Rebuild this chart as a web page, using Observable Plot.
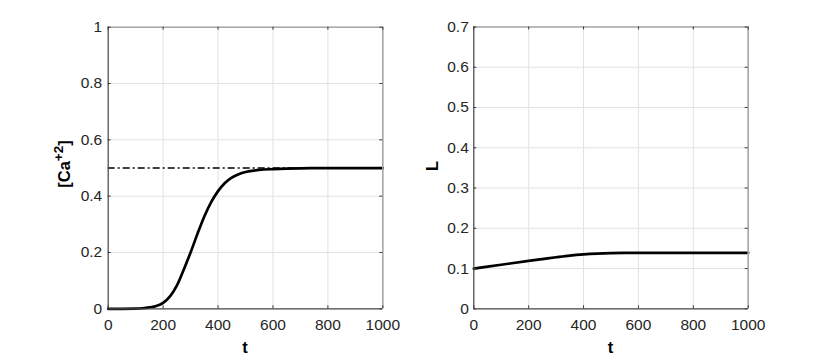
<!DOCTYPE html>
<html>
<head>
<meta charset="utf-8">
<script src="https://cdn.jsdelivr.net/npm/d3@7"></script>
<script src="https://cdn.jsdelivr.net/npm/@observablehq/plot@0.6"></script>
<style>
  html, body { margin: 0; padding: 0; background: white; }
  #wrap { position: relative; width: 830px; height: 356px; overflow: hidden; background: white; }
  #wrap svg { position: absolute; top: 0; }
</style>
</head>
<body>
<div id="wrap"></div>
<script>
// ---- Data ----
const tCa = [0, 50, 100, 125, 150, 175, 200, 225, 250, 275, 300, 325, 350, 375, 400, 425, 450, 475, 500, 550, 600, 650, 700, 800, 900, 1000];
const ca  = [0, 0, 0.0005, 0.002, 0.005, 0.010, 0.021, 0.044, 0.082, 0.139, 0.200, 0.266, 0.328, 0.379, 0.418, 0.447, 0.466, 0.478, 0.486, 0.493, 0.496, 0.498, 0.499, 0.4995, 0.4997, 0.4998];
const caRef = [0.5];

const tL = [0, 100, 200, 250, 300, 350, 400, 450, 500, 550, 600, 700, 800, 1000];
const L  = [0.1, 0.1095, 0.119, 0.1235, 0.128, 0.1322, 0.1352, 0.1372, 0.1383, 0.1388, 0.139, 0.1391, 0.1391, 0.1391];

const xTicks = [0, 200, 400, 600, 800, 1000];
const yTicksCa = [0, 0.2, 0.4, 0.6, 0.8, 1];
const yTicksL = [0, 0.1, 0.2, 0.3, 0.4, 0.5, 0.6, 0.7];
const xDomain = [0, 1000];
const yDomainCa = [0, 1];
const yDomainL = [0, 0.7];

const font = "'Liberation Sans', Arial, Helvetica, sans-serif";
const tickFontSize = 15.5;
const gridColor = "#e2e2e2";
const axisColor = "#4a4a4a";
const boxColor = "#a8a8a8";
const tickColor = "#3a3a3a";
const tickLen = 3;

function panel({left, width, height, mL, mR, mT, mB, yDomain, yTicks, data, xKey, yKey, ref, padY}) {
  const plotW = width - mL - mR;
  const plotH = height - mT - mB;
  const marks = [
    Plot.gridX(xTicks, {stroke: gridColor, strokeOpacity: 1}),
    Plot.gridY(yTicks, {stroke: gridColor, strokeOpacity: 1}),
  ];
  if (ref) marks.push(Plot.ruleY(ref, {stroke: "black", strokeWidth: 1.5, strokeDasharray: "7,3,2,3"}));
  marks.push(
    Plot.line(data, {x: xKey, y: yKey, stroke: "black", strokeWidth: 2.7, curve: "monotone-x"}),
    // box: top and right lighter, left and bottom darker
    Plot.ruleY([yDomain[1]], {stroke: boxColor, strokeWidth: 1.6}),
    Plot.ruleX([xDomain[1]], {stroke: boxColor, strokeWidth: 1.6}),
    Plot.ruleY([yDomain[0]], {stroke: axisColor, strokeWidth: 1.2}),
    Plot.ruleX([xDomain[0]], {stroke: axisColor, strokeWidth: 1.2}),
    // inward ticks on all four sides
    Plot.tickY(yTicks, {y: d => d, stroke: tickColor, insetRight: plotW - tickLen}),
    Plot.tickY(yTicks, {y: d => d, stroke: tickColor, insetLeft: plotW - tickLen}),
    Plot.tickX(xTicks, {x: d => d, stroke: tickColor, insetTop: plotH - tickLen}),
    Plot.tickX(xTicks, {x: d => d, stroke: tickColor, insetBottom: plotH - tickLen}),
    Plot.axisX(xTicks, {tickSize: 0, tickPadding: 10, label: null, tickFormat: d => String(d), fill: "#262626", fontSize: tickFontSize}),
    Plot.axisY(yTicks, {tickSize: 0, tickPadding: padY, label: null, tickFormat: d => String(d), fill: "#262626", fontSize: tickFontSize})
  );
  const svg = Plot.plot({
    width, height,
    marginLeft: mL, marginRight: mR, marginTop: mT, marginBottom: mB,
    x: {domain: xDomain},
    y: {domain: yDomain},
    style: {fontFamily: font, fontSize: tickFontSize + "px", color: "#262626", background: "transparent", overflow: "visible"},
    marks
  });
  svg.style.left = left + "px";
  document.getElementById("wrap").appendChild(svg);
  return {svg, cx: mL + plotW / 2};
}

const dataCa = tCa.map((t, i) => ({t, v: ca[i]}));
const dataL = tL.map((t, i) => ({t, v: L[i]}));

const p1 = panel({left: 0, width: 415, height: 356, mL: 107.7, mR: 32.7, mT: 26.7, mB: 47.7,
  yDomain: yDomainCa, yTicks: yTicksCa, data: dataCa, xKey: "t", yKey: "v", ref: caRef, padY: 6});
const p2 = panel({left: 415, width: 415, height: 356, mL: 58.3, mR: 82.3, mT: 26.5, mB: 47.7,
  yDomain: yDomainL, yTicks: yTicksL, data: dataL, xKey: "t", yKey: "v", ref: null, padY: 5});

function addText(svg, x, y, rotate, build) {
  const t = d3.select(svg).append("text")
    .attr("transform", `translate(${x},${y})` + (rotate ? " rotate(-90)" : ""))
    .attr("text-anchor", "middle")
    .attr("font-family", font)
    .attr("font-weight", "bold")
    .attr("font-size", "16.5px")
    .attr("fill", "black");
  build(t);
}
// x labels
addText(p1.svg, p1.cx, 353, false, t => t.text("t"));
addText(p2.svg, p2.cx, 353, false, t => t.text("t"));
// y labels
addText(p1.svg, 69.5, 164, true, t => {
  t.append("tspan").text("[Ca");
  t.append("tspan").attr("dy", "-0.5em").attr("font-size", "13.5px").text("+2");
  t.append("tspan").attr("dy", "0.41em").text("]");
});
addText(p2.svg, 438 - 415, 166, true, t => t.text("L"));
</script>
</body>
</html>
